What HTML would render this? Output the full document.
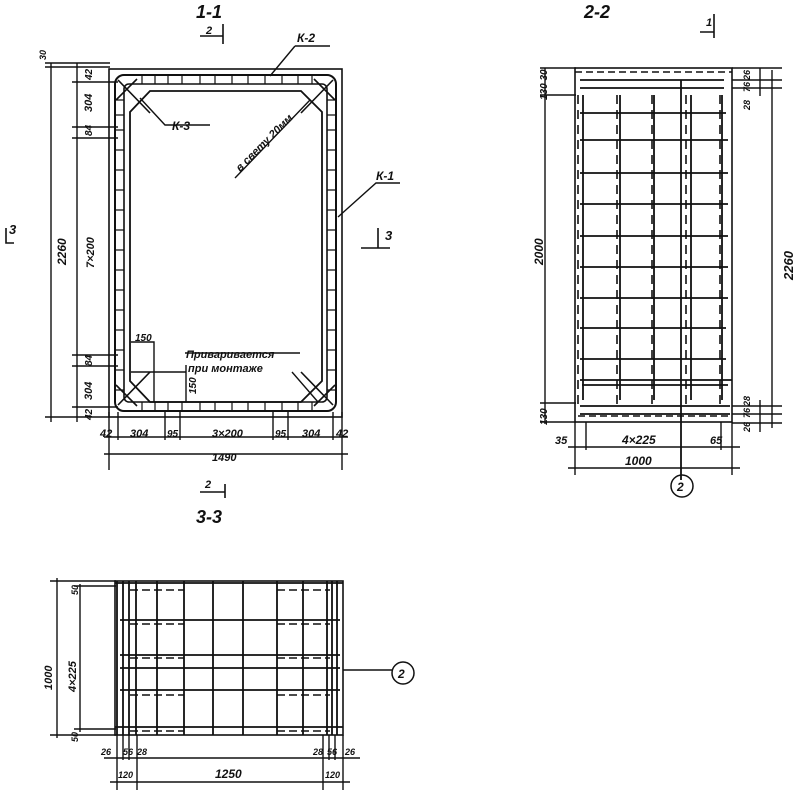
<!DOCTYPE html>
<html><head><meta charset="utf-8"><style>
html,body{margin:0;padding:0;background:#fff}
svg{display:block}
text{font-family:"Liberation Sans",sans-serif;font-style:italic;fill:#111;font-weight:bold}
</style></head><body>
<svg width="800" height="800" viewBox="0 0 800 800" xmlns="http://www.w3.org/2000/svg">
<g stroke="#111" fill="none" stroke-width="1.4">
<!-- ===== 1-1 ===== -->
<rect x="109" y="69" width="233" height="348" stroke-width="1.6"/>
<rect x="115" y="75" width="221" height="336" rx="9" stroke-width="2"/>
<rect x="124" y="84" width="203" height="318" rx="5" stroke-width="1.6"/>
<path d="M150 91 L301 91 L322 112 L322 381 L301 402 L150 402 L130 381 L130 112 Z" stroke-width="1.8"/>
<path d="M118 80 L150 113 M137 79 L116 100 M333 80 L301 113 M314 79 L335 100 M118 405 L150 372 M137 406 L116 385 M333 405 L301 372 M314 406 L335 385" stroke-width="1.6"/>
<g stroke-width="1.2">
<path d="M142 75v9M155 75v9M168 75v9M182 75v9M200 75v9M215 75v9M232 75v9M248 75v9M265 75v9M282 75v9M298 75v9M312 75v9"/>
<path d="M142 402v9M155 402v9M168 402v9M182 402v9M200 402v9M215 402v9M232 402v9M248 402v9M265 402v9M282 402v9M298 402v9M312 402v9"/>
<path d="M115 100h9M115 115h9M115 130h9M115 150h9M115 170h9M115 190h9M115 210h9M115 230h9M115 250h9M115 270h9M115 290h9M115 310h9M115 330h9M115 350h9M115 370h9M115 390h9"/>
<path d="M327 100h9M327 115h9M327 130h9M327 150h9M327 170h9M327 190h9M327 210h9M327 230h9M327 250h9M327 270h9M327 290h9M327 310h9M327 330h9M327 350h9M327 370h9M327 390h9"/>
</g>
<path d="M51 63V422 M77 63V422 M45 63H110 M45 67H110 M72 82H118 M72 127H118 M72 138H118 M72 355H118 M72 366H118 M72 407H118 M45 417H110"/>
<path d="M109 412V470 M118 412V440 M165 412V440 M180 412V440 M273 412V440 M288 412V440 M333 412V440 M342 412V470 M104 437H348 M104 454H348"/>
<path d="M131 342H154V402 M131 372H186V402 M186 372V365"/>
<path d="M295 46H330 M295 46L270 76 M140 98L165 125H210 M338 217L376 183H400 M235 178L310 100 M185 353H300 M292 372L318 402"/>
<path d="M200 36H223V24 M223 36V44 M6 228V243H14 M361 248H390 M378 228V248" stroke-width="1.6"/>
<path d="M200 492H225 M225 484V498" stroke-width="1.6"/>

<!-- ===== 2-2 ===== -->
<rect x="575" y="68" width="157" height="354" stroke-width="1.6"/>
<path d="M575 72H732 M578 416H732" stroke-dasharray="7 4"/>
<g stroke-width="1.8">
<path d="M580 80H724 M580 88H724 M580 113H726 M580 140H728 M580 173H728 M580 204H728 M580 236H728 M580 267H728 M580 298H728 M580 328H726 M580 359H726 M580 380H732 M582 385H728 M580 406H730 M580 414H730"/>
<path d="M583 95V400 M620 95V400 M654 95V400 M681 80V480 M691 95V400 M722 95V400"/>
</g>
<path d="M578 95V405 M617 95V405 M652 95V405 M686 95V405 M720 95V405" stroke-dasharray="9 6" stroke-width="1.6"/>
<path d="M545 68V424 M540 68H576 M540 95H576 M540 403H576 M540 422H576 M772 70V428 M732 68H782 M732 80H782 M732 88H782 M732 406H782 M732 414H782 M732 423H782 M760 68V96 M760 400V432"/>
<path d="M575 422V475 M586 422V450 M721 422V450 M732 422V475 M568 447H740 M568 468H740"/>
<circle cx="682" cy="486" r="11" stroke-width="1.5"/>
<path d="M700 32H714V14 M714 32V38" stroke-width="1.6"/>

<!-- ===== 3-3 ===== -->
<rect x="115" y="581" width="228" height="154" stroke-width="1.6"/>
<g stroke-width="1.8">
<path d="M115 583H343 M120 620H340 M120 655H340 M120 668H340 M120 690H340 M115 727H343"/>
<path d="M117 581V735 M123 581V735 M129 581V735 M136 581V735 M157 581V735 M184 581V735 M213 581V735 M243 581V735 M277 581V735 M303 581V735 M327 581V735 M332 581V735 M337 581V735"/>
</g>
<path d="M130 590H184 M277 590H330 M130 624H184 M277 624H330 M130 658H184 M277 658H330 M130 695H184 M277 695H330 M130 731H184 M277 731H330" stroke-dasharray="8 4" stroke-width="1.5"/>
<path d="M343 670H392"/>
<circle cx="403" cy="673" r="11" stroke-width="1.5"/>
<path d="M57 578V738 M80 584V732 M50 581H116 M50 735H116 M74 586H116 M74 729H116"/>
<path d="M117 735V790 M123 735V760 M129 735V760 M137 735V790 M323 735V790 M329 735V760 M335 735V760 M343 735V790 M104 758H360 M110 782H350"/>
</g>
<g font-size="14">
<text x="196" y="18" font-size="18">1-1</text>
<text x="206" y="34" font-size="11">2</text>
<text x="297" y="42" font-size="12">К-2</text>
<text x="172" y="130" font-size="12">К-3</text>
<text x="376" y="180" font-size="12">К-1</text>
<text x="385" y="240" font-size="13">3</text>
<text x="9" y="234" font-size="13">3</text>
<text x="135" y="341" font-size="10">150</text>
<text x="186" y="358" font-size="11">Приваривается</text>
<text x="188" y="372" font-size="11">при монтаже</text>
<text transform="translate(240,172) rotate(-45)" font-size="11">в свету 20мм</text>
<text transform="translate(66,265) rotate(-90)" font-size="12">2260</text>
<text transform="translate(94,268) rotate(-90)" font-size="11">7×200</text>
<text transform="translate(92,112) rotate(-90)" font-size="11">304</text>
<text transform="translate(92,80) rotate(-90)" font-size="10">42</text>
<text transform="translate(92,136) rotate(-90)" font-size="10">84</text>
<text transform="translate(92,366) rotate(-90)" font-size="10">84</text>
<text transform="translate(92,400) rotate(-90)" font-size="11">304</text>
<text transform="translate(92,420) rotate(-90)" font-size="10">42</text>
<text transform="translate(46,60) rotate(-90)" font-size="9">30</text>
<text transform="translate(196,394) rotate(-90)" font-size="10">150</text>
<text x="100" y="437" font-size="11">42</text>
<text x="130" y="437" font-size="11">304</text>
<text x="167" y="437" font-size="10">95</text>
<text x="212" y="437" font-size="11">3×200</text>
<text x="275" y="437" font-size="10">95</text>
<text x="302" y="437" font-size="11">304</text>
<text x="336" y="437" font-size="11">42</text>
<text x="212" y="461" font-size="11">1490</text>
<text x="205" y="488" font-size="11">2</text>
<text x="196" y="523" font-size="18">3-3</text>
<text x="584" y="18" font-size="18">2-2</text>
<text x="706" y="26" font-size="11">1</text>
<text transform="translate(547,100) rotate(-90)" font-size="10">130 30</text>
<text transform="translate(547,425) rotate(-90)" font-size="10">130</text>
<text transform="translate(543,265) rotate(-90)" font-size="12">2000</text>
<text transform="translate(793,280) rotate(-90)" font-size="13">2260</text>
<text transform="translate(750,80) rotate(-90)" font-size="9">26</text>
<text transform="translate(750,92) rotate(-90)" font-size="9">76</text>
<text transform="translate(750,110) rotate(-90)" font-size="9">28</text>
<text transform="translate(750,406) rotate(-90)" font-size="9">28</text>
<text transform="translate(750,418) rotate(-90)" font-size="9">76</text>
<text transform="translate(750,432) rotate(-90)" font-size="9">26</text>
<text x="555" y="444" font-size="11">35</text>
<text x="622" y="444" font-size="12">4×225</text>
<text x="710" y="444" font-size="11">65</text>
<text x="625" y="465" font-size="12">1000</text>
<text x="677" y="491" font-size="12">2</text>
<text x="398" y="678" font-size="12">2</text>
<text transform="translate(52,690) rotate(-90)" font-size="11">1000</text>
<text transform="translate(76,692) rotate(-90)" font-size="11">4×225</text>
<text transform="translate(78,595) rotate(-90)" font-size="9">50</text>
<text transform="translate(78,742) rotate(-90)" font-size="9">50</text>
<text x="101" y="755" font-size="9">26</text>
<text x="123" y="755" font-size="9">56</text>
<text x="137" y="755" font-size="9">28</text>
<text x="313" y="755" font-size="9">28</text>
<text x="327" y="755" font-size="9">56</text>
<text x="345" y="755" font-size="9">26</text>
<text x="118" y="778" font-size="9">120</text>
<text x="215" y="778" font-size="12">1250</text>
<text x="325" y="778" font-size="9">120</text>
</g>
</svg>
</body></html>
